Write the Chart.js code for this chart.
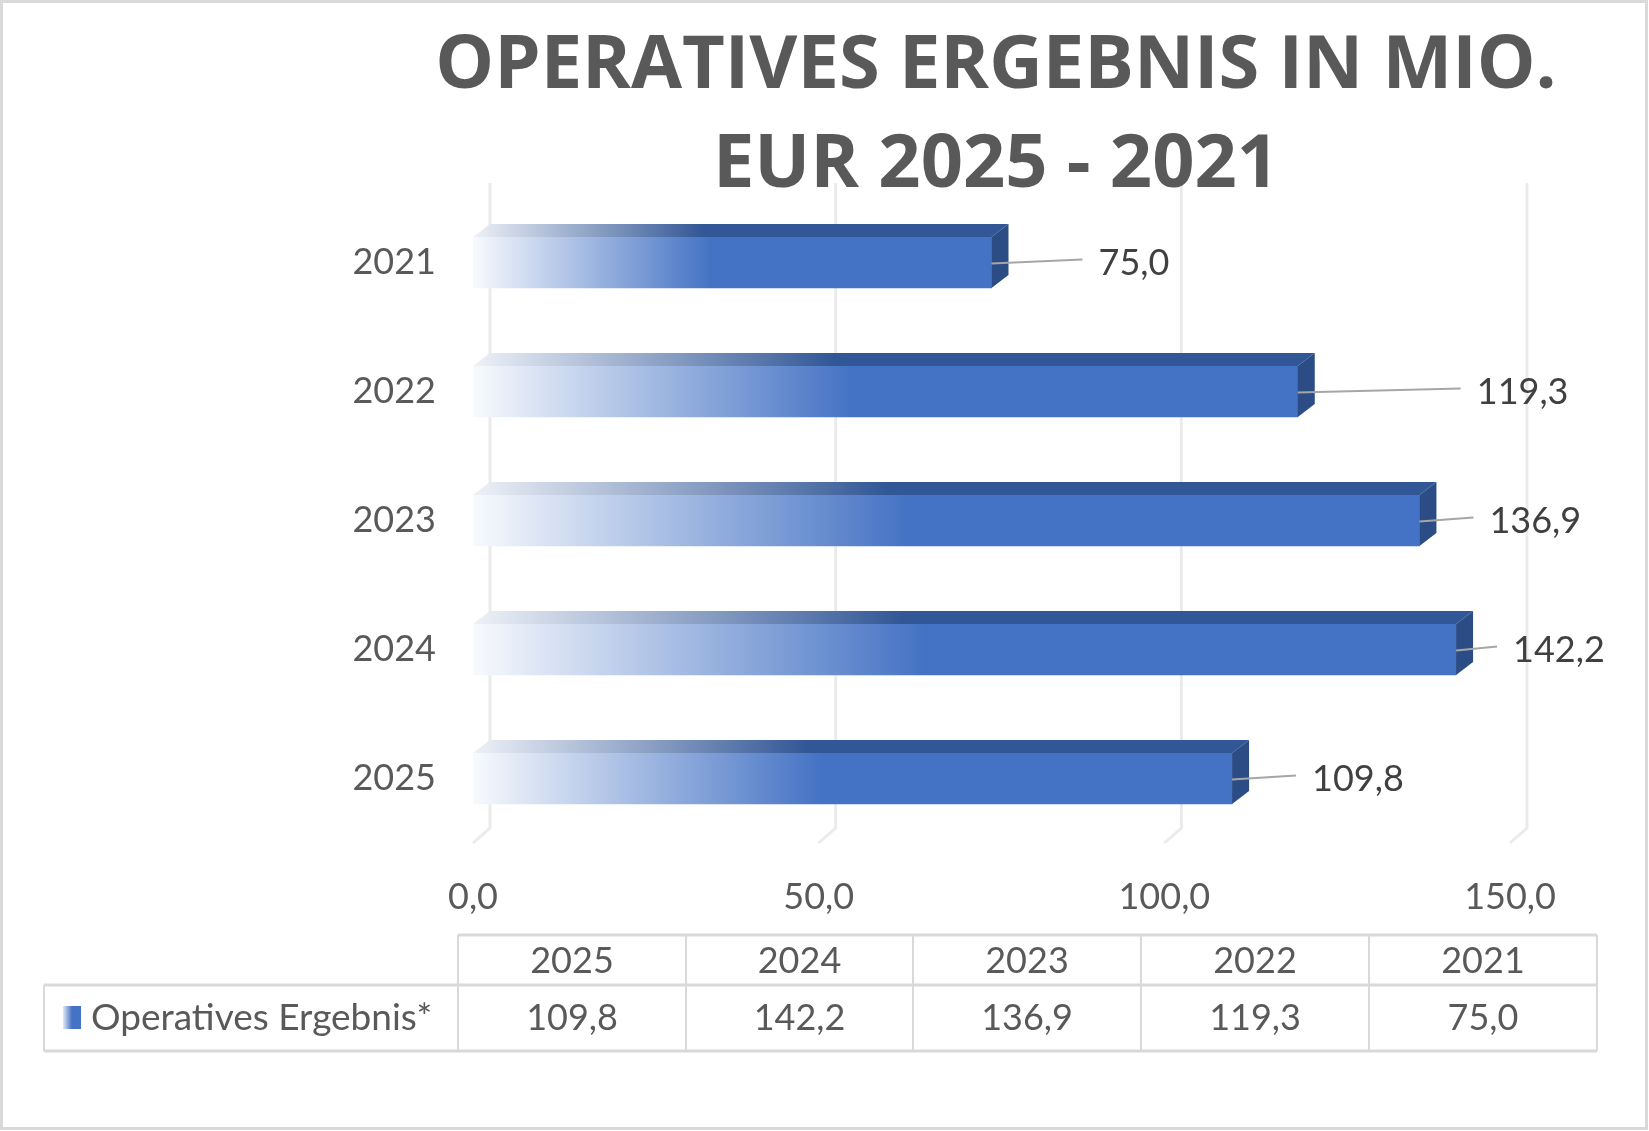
<!DOCTYPE html>
<html>
<head>
<meta charset="utf-8">
<title>Operatives Ergebnis</title>
<script src="https://cdn.jsdelivr.net/npm/chart.js@4.4.1/dist/chart.umd.min.js"></script>
<style>
  html, body { margin: 0; padding: 0; background: #fff; }
  #wrap { width: 1649px; height: 1131px; }
</style>
</head>
<body>
<div id="wrap"><canvas id="chart" width="1649" height="1131"></canvas></div>
<script>
var years = ['2025', '2024', '2023', '2022', '2021'];
var ergebnis = [109.8, 142.2, 136.9, 119.3, 75.0];
var xTicks = [0, 50, 100, 150];
var titleLines = ['OPERATIVES ERGEBNIS IN MIO.', 'EUR 2025 - 2021'];
var seriesName = 'Operatives Ergebnis*';
// distance of each value label from its bar end (placed by hand in the original)
var labelGap = [80, 57, 70, 179, 107];

var DEPTH_X = 17, DEPTH_Y = 13;

function fmt(v) {
  return Number(v).toFixed(1).replace('.', ',');
}

Chart.defaults.font.family = 'Lato, "Noto Sans", sans-serif';
Chart.defaults.font.size = 36;
Chart.defaults.color = '#595959';

function frontFill(c) {
  var chart = c.chart;
  if (!chart.chartArea || c.type !== 'data') return '#4472C4';
  var xs = chart.scales.x;
  var x0 = xs.getPixelForValue(0), x1 = xs.getPixelForValue(c.raw);
  var g = chart.ctx.createLinearGradient(x0, 0, x1, 0);
  g.addColorStop(0, 'rgb(248,250,253)');
  g.addColorStop(0.05, 'rgb(228,235,247)');
  g.addColorStop(0.46, '#4472C4');
  g.addColorStop(1, '#4472C4');
  return g;
}

// back wall gridlines, 3d faces, value labels, title, data table
var excel3d = {
  id: 'excel3d',
  beforeDatasetsDraw: function(chart) {
    var ctx = chart.ctx, xs = chart.scales.x, area = chart.chartArea;
    ctx.save();
    ctx.strokeStyle = '#EBEBEB';
    ctx.lineWidth = 3;
    xTicks.forEach(function(t) {
      var x = xs.getPixelForValue(t);
      ctx.beginPath();
      ctx.moveTo(x + DEPTH_X, 183);
      ctx.lineTo(x + DEPTH_X, area.bottom - 15);
      ctx.lineTo(x, area.bottom);
      ctx.stroke();
    });
    ctx.restore();
  },
  afterDatasetsDraw: function(chart) {
    var ctx = chart.ctx;
    var meta = chart.getDatasetMeta(0);
    ctx.save();
    meta.data.forEach(function(bar, i) {
      var p = bar.getProps(['x', 'y', 'base', 'height'], true);
      var x0 = p.base, x1 = p.x;
      var top = p.y - p.height / 2, bottom = p.y + p.height / 2;

      // top face
      var g = ctx.createLinearGradient(x0, 0, x1 + DEPTH_X, 0);
      g.addColorStop(0, 'rgb(238,241,247)');
      g.addColorStop(0.43, '#325796');
      g.addColorStop(1, '#325796');
      ctx.fillStyle = g;
      ctx.beginPath();
      ctx.moveTo(x0, top);
      ctx.lineTo(x1, top);
      ctx.lineTo(x1 + DEPTH_X, top - DEPTH_Y);
      ctx.lineTo(x0 + DEPTH_X, top - DEPTH_Y);
      ctx.closePath();
      ctx.fill();

      // right end face
      ctx.fillStyle = '#2C4C86';
      ctx.beginPath();
      ctx.moveTo(x1, top);
      ctx.lineTo(x1 + DEPTH_X, top - DEPTH_Y);
      ctx.lineTo(x1 + DEPTH_X, bottom - DEPTH_Y);
      ctx.lineTo(x1, bottom);
      ctx.closePath();
      ctx.fill();

      // leader line + value label
      var lx = x1 + labelGap[i];
      ctx.strokeStyle = '#A6A6A6';
      ctx.lineWidth = 2;
      ctx.beginPath();
      ctx.moveTo(x1, p.y + 1);
      ctx.lineTo(lx - 16, p.y - 3);
      ctx.stroke();
      ctx.fillStyle = '#404040';
      ctx.font = '36px Lato, "Noto Sans", sans-serif';
      ctx.textAlign = 'left';
      ctx.textBaseline = 'alphabetic';
      ctx.fillText(fmt(ergebnis[i]), lx, p.y + 12);
    });
    ctx.restore();
  },
  afterDraw: function(chart) {
    var ctx = chart.ctx;
    ctx.save();

    // title
    ctx.fillStyle = '#595959';
    ctx.font = 'bold 74px "Open Sans", Lato, sans-serif';
    ctx.textAlign = 'center';
    ctx.textBaseline = 'alphabetic';
    ctx.fillText(titleLines[0], 996, 88);
    ctx.fillText(titleLines[1], 996, 187);

    // data table
    var cols = [458, 686, 913, 1141, 1369, 1597];
    var rowTop = 935, rowMid = 985, rowBot = 1051, leftEdge = 44;
    ctx.strokeStyle = '#D9D9D9';
    ctx.lineWidth = 3;
    ctx.beginPath();
    ctx.moveTo(cols[0], rowTop); ctx.lineTo(cols[5], rowTop);
    ctx.moveTo(leftEdge, rowMid); ctx.lineTo(cols[5], rowMid);
    ctx.moveTo(leftEdge, rowBot); ctx.lineTo(cols[5], rowBot);
    ctx.stroke();
    ctx.lineWidth = 2;
    ctx.beginPath();
    ctx.moveTo(leftEdge, rowMid); ctx.lineTo(leftEdge, rowBot);
    cols.forEach(function(c) { ctx.moveTo(c, rowTop); ctx.lineTo(c, rowBot); });
    ctx.stroke();

    ctx.font = '36px Lato, "Noto Sans", sans-serif';
    ctx.fillStyle = '#595959';
    ctx.textAlign = 'center';
    years.forEach(function(y, i) {
      var cx = (cols[i] + cols[i + 1]) / 2;
      ctx.fillText(y, cx, 973);
      ctx.fillText(fmt(ergebnis[i]), cx, 1030);
    });

    // legend key + series name
    var kg = ctx.createLinearGradient(63, 0, 81, 0);
    kg.addColorStop(0, 'rgb(225,233,247)');
    kg.addColorStop(0.5, '#4472C4');
    kg.addColorStop(1, '#4472C4');
    ctx.fillStyle = kg;
    ctx.fillRect(63, 1006, 18, 23);
    ctx.fillStyle = '#595959';
    ctx.textAlign = 'left';
    ctx.font = '37px Lato, "Noto Sans", sans-serif';
    ctx.fillText(seriesName, 91, 1030);

    // outer frame
    ctx.strokeStyle = '#D9D9D9';
    ctx.lineWidth = 3;
    ctx.strokeRect(1.5, 1.5, 1645, 1127);
    ctx.restore();
  }
};

new Chart(document.getElementById('chart'), {
  type: 'bar',
  data: {
    labels: years,
    datasets: [{
      label: seriesName,
      data: ergebnis,
      backgroundColor: frontFill,
      borderWidth: 0,
      barThickness: 51
    }]
  },
  options: {
    indexAxis: 'y',
    responsive: false,
    animation: false,
    layout: { padding: { top: 198, right: 139, bottom: 0, left: 0 } },
    plugins: {
      legend: { display: false },
      tooltip: { enabled: false },
      title: { display: false }
    },
    scales: {
      x: {
        min: 0,
        max: 150,
        afterBuildTicks: function(s) { s.ticks = xTicks.map(function(v) { return { value: v }; }); },
        grid: { display: false, drawTicks: false },
        border: { display: false },
        ticks: { padding: 33, color: '#595959', callback: function(v) { return fmt(v); } },
        afterFit: function(s) { s.height = 1131 - 843; }
      },
      y: {
        reverse: true,
        grid: { display: false, drawTicks: false },
        border: { display: false },
        ticks: { padding: 37, color: '#595959' },
        afterFit: function(s) { s.width = 473; }
      }
    }
  },
  plugins: [excel3d]
});
</script>
</body>
</html>
